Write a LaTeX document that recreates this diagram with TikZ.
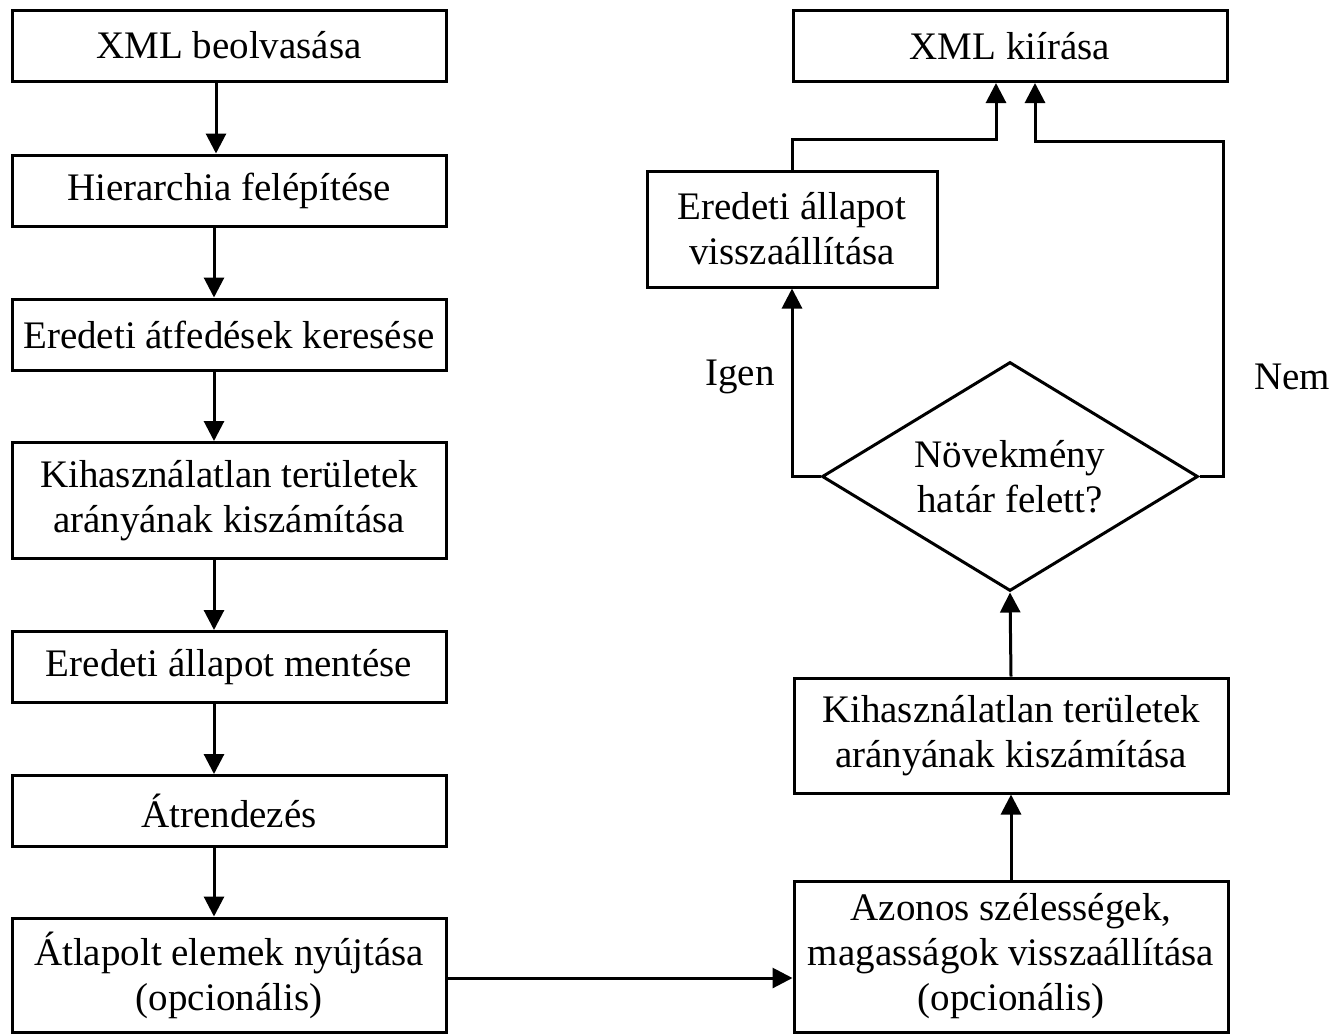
\documentclass[tikz,border=0pt]{standalone}
\usepackage{fontspec}
\setmainfont{Liberation Serif}
\usetikzlibrary{shapes.geometric,arrows.meta}

\begin{document}
\begin{tikzpicture}[x=1pt,y=-1pt,
        procbox/.style={draw,line width=3pt,align=center,minimum width=434pt,minimum height=71pt,inner sep=0pt,font=\fontsize{39}{45}\selectfont},
        dontes/.style={draw,diamond,aspect=1.64,line width=3pt,align=center,minimum width=376pt,minimum height=229pt,inner sep=0pt,font=\fontsize{39}{45}\selectfont},
        felirat/.style={font=\fontsize{39}{45}\selectfont},
        nyil/.style={line width=3pt,-{Triangle[length=20pt,width=20pt]}}]
        \useasboundingbox (0,0) rectangle (1330,1034);

        % bal oszlop
        \node[procbox] (beolv) at (229,45.5) {XML beolvasása};
        \node[procbox] (hier) at (229,190.5) {Hierarchia felépítése};
        \node[procbox] (atfed) at (229,334.5) {Eredeti átfedések keresése};
        \node[procbox,minimum height=116pt] (arany1) at (229,500.5) {Kihasználatlan területek\\arányának kiszámítása};
        \node[procbox] (ment) at (229,667) {Eredeti állapot mentése};
        \node[procbox] (atrend) at (229,811) {Átrendezés};
        \node[procbox,minimum height=114pt] (nyujt) at (229,975) {Átlapolt elemek nyújtása\\(opcionális)};

        \draw[nyil] ([xshift=-13pt]beolv.south) -- ([xshift=-13pt]hier.north);
        \draw[nyil] ([xshift=-15pt]hier.south) -- ([xshift=-15pt]atfed.north);
        \draw[nyil] ([xshift=-15pt]atfed.south) -- ([xshift=-15pt]arany1.north);
        \draw[nyil] ([xshift=-15pt]arany1.south) -- ([xshift=-15pt]ment.north);
        \draw[nyil] ([xshift=-15pt]ment.south) -- ([xshift=-15pt]atrend.north);
        \draw[nyil] ([xshift=-15pt]atrend.south) -- ([xshift=-15pt]nyujt.north);

        % jobb oszlop
        \node[procbox] (kiir) at (1010,46) {XML kiírása};
        \node[procbox,minimum width=290pt,minimum height=116pt] (vissza) at (792,229) {Eredeti állapot\\visszaállítása};
        \node[dontes] (novek) at (1010,476.5) {Növekmény\\határ felett?};
        \node[procbox,minimum height=115pt] (arany2) at (1011,735.5) {Kihasználatlan területek\\arányának kiszámítása};
        \node[procbox,minimum height=151pt] (azonos) at (1011,956.5) {Azonos szélességek,\\magasságok visszaállítása\\(opcionális)};

        \node[felirat] (igen) at (740,377) {Igen};
        \node[felirat] (nem) at (1292,377) {Nem};

        \draw[nyil] (nyujt.east |- 0,978) -- (azonos.west |- 0,978);
        \draw[nyil] (azonos) -- (arany2);
        \draw[nyil] (arany2.north) -- (novek.south);
        \draw[nyil] (novek.west) -| (vissza.south);
        \draw[nyil] (vissza.north) -- ++(0,-30) -| ([xshift=-14pt]kiir.south);
        \draw[nyil] (novek.east) -- ++(24,0) -- ++(0,-335) -| ([xshift=25pt]kiir.south);
\end{tikzpicture}
\end{document}
